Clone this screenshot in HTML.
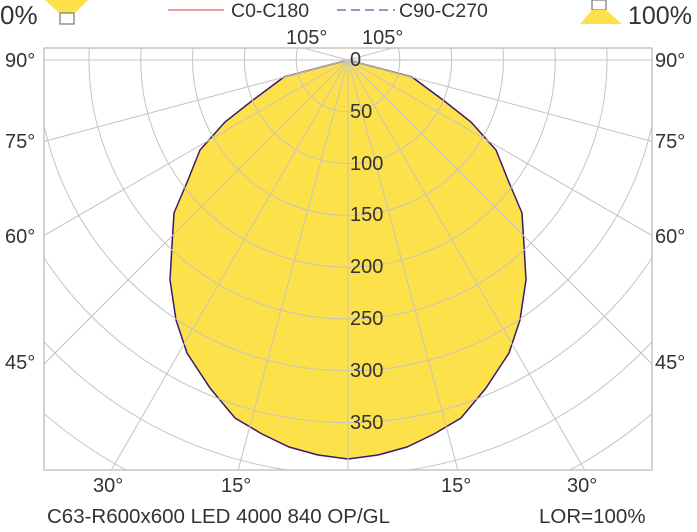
<!DOCTYPE html>
<html><head><meta charset="utf-8"><style>
html,body{margin:0;padding:0;background:#fff;width:697px;height:532px;overflow:hidden}
svg{display:block}
svg text{font-family:"Liberation Sans",sans-serif;fill:#333}
</style></head><body>
<svg width="697" height="532" viewBox="0 0 697 532" xmlns="http://www.w3.org/2000/svg">
<defs><clipPath id="c"><rect x="44" y="48" width="608" height="422"/></clipPath></defs>
<polygon points="348,459 318,455 289,447 262,434 235,418 210,388 187,353 176,320 170,280 172,245 174,213 188,180 200,150 225,122 253,100 284,77 348,60 412,77 443,100 471,122 496,150 508,180 522,213 524,245 526,280 520,320 509,353 486,388 461,418 434,434 407,447 378,455" fill="#fde14b" stroke="#3a1a6a" stroke-width="1.5"/>
<g clip-path="url(#c)" stroke="#c8c4bc" stroke-width="1" fill="none">
<circle cx="348" cy="60" r="51.8"/><circle cx="348" cy="60" r="103.6"/><circle cx="348" cy="60" r="155.4"/><circle cx="348" cy="60" r="207.2"/><circle cx="348" cy="60" r="259"/><circle cx="348" cy="60" r="310.8"/><circle cx="348" cy="60" r="362.6"/><circle cx="348" cy="60" r="414.4"/><circle cx="348" cy="60" r="466.2"/><circle cx="348" cy="60" r="518"/><circle cx="348" cy="60" r="569.8"/>
<line x1="348" y1="60" x2="348" y2="700"/>
<line x1="348" y1="60" x2="182.4" y2="678.2"/>
<line x1="348" y1="60" x2="28" y2="614.3"/>
<line x1="348" y1="60" x2="-104.5" y2="512.5"/>
<line x1="348" y1="60" x2="-206.3" y2="380"/>
<line x1="348" y1="60" x2="-270.2" y2="225.6"/>
<line x1="348" y1="60" x2="-292" y2="60"/>
<line x1="348" y1="60" x2="-270.2" y2="-105.6"/>
<line x1="348" y1="60" x2="513.6" y2="678.2"/>
<line x1="348" y1="60" x2="668" y2="614.3"/>
<line x1="348" y1="60" x2="800.5" y2="512.5"/>
<line x1="348" y1="60" x2="902.3" y2="380"/>
<line x1="348" y1="60" x2="966.2" y2="225.6"/>
<line x1="348" y1="60" x2="988" y2="60"/>
<line x1="348" y1="60" x2="966.2" y2="-105.6"/>
</g>
<rect x="44" y="48" width="608" height="422" fill="none" stroke="#c8c4bc" stroke-width="1.5"/>
<g font-size="20">
<text x="350" y="66">0</text>
<text x="350" y="118">50</text>
<text x="350" y="170">100</text>
<text x="350" y="221">150</text>
<text x="350" y="273">200</text>
<text x="350" y="325">250</text>
<text x="350" y="377">300</text>
<text x="350" y="429">350</text>
</g>
<g font-size="20">
<text x="286" y="44">105°</text><text x="362" y="44">105°</text>
<text x="5" y="67">90°</text><text x="655" y="67">90°</text>
<text x="5" y="148">75°</text><text x="655" y="148">75°</text>
<text x="5" y="243">60°</text><text x="655" y="243">60°</text>
<text x="5" y="369">45°</text><text x="655" y="369">45°</text>
<text x="93" y="492">30°</text><text x="221" y="492">15°</text><text x="441" y="492">15°</text><text x="567" y="492">30°</text>
</g>
<text x="47" y="523" font-size="20.5">C63-R600x600 LED 4000 840 OP/GL</text>
<text x="539" y="523" font-size="20.5">LOR=100%</text>
<g font-size="19.5"><text x="231" y="17">C0-C180</text><text x="399" y="17">C90-C270</text></g>
<text x="0" y="24" font-size="26">0%</text>
<text x="628" y="24" font-size="25">100%</text>
<line x1="168" y1="10" x2="224" y2="10" stroke="#e08080" stroke-width="1.5"/>
<line x1="337" y1="10" x2="395" y2="10" stroke="#7a70b8" stroke-width="1.5" stroke-dasharray="9,5"/>
<polygon points="45,0 88,0 75,13 59,13" fill="#fde14b"/>
<rect x="60" y="13" width="14" height="11" fill="#fff" stroke="#777" stroke-width="1.2"/>
<rect x="592" y="0" width="14" height="10" fill="#fff" stroke="#777" stroke-width="1.2"/>
<polygon points="592,10 606,10 622,24 580,24" fill="#fde14b"/>
</svg>
</body></html>
